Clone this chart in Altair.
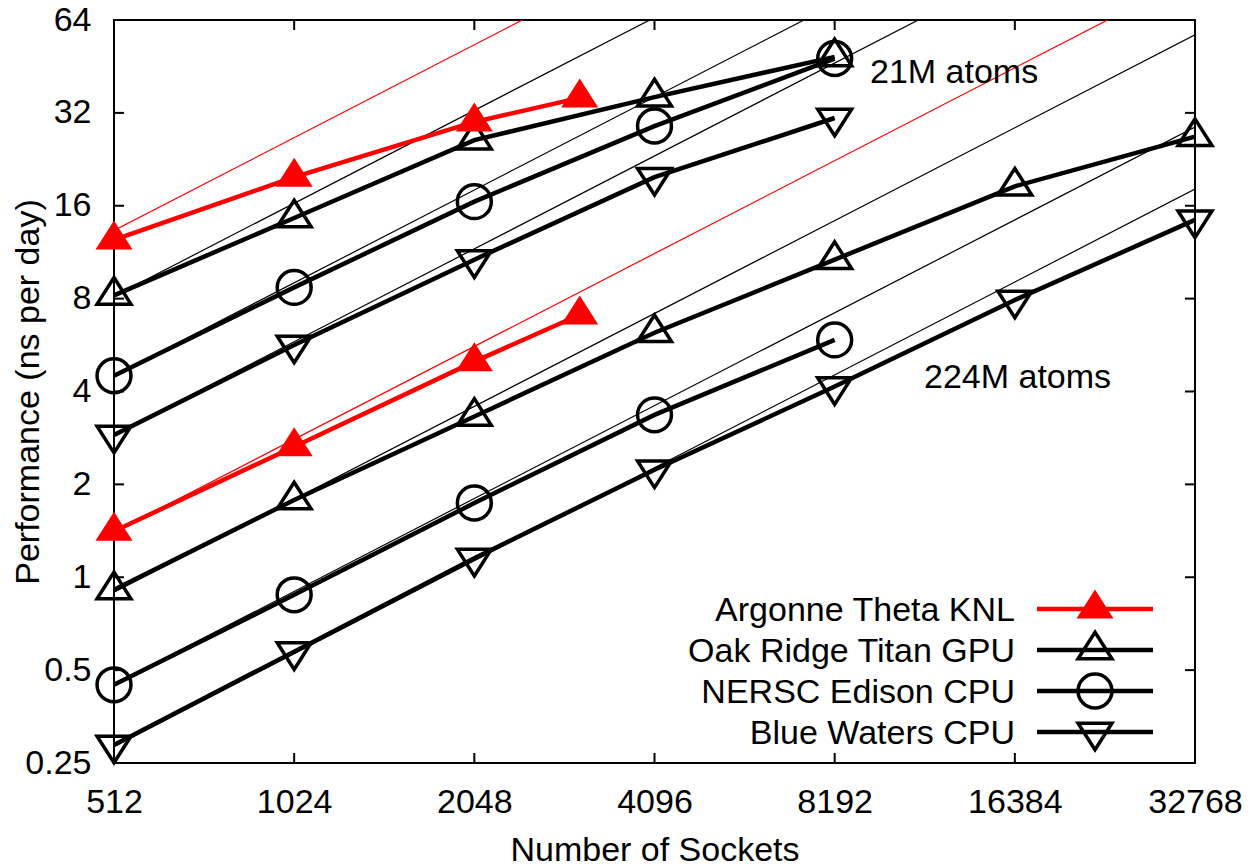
import altair as alt
import pandas as pd

# ---------------------------------------------------------------- data
sockets = [512, 1024, 2048, 4096, 8192, 16384, 32768]
knl_sockets = [512, 1024, 2048, 3072]

machines = ["Argonne Theta KNL", "Oak Ridge Titan GPU", "NERSC Edison CPU", "Blue Waters CPU"]

# 21M-atom system (ns per day)
knl_21m = [12.4, 19.8, 29.9, 35.8]
titan_21m = [8.2, 14.6, 26.1, 36.0, 48.6]
edison_21m = [4.5, 8.7, 16.5, 29.0, 48.0]
bluewaters_21m = [2.89, 5.66, 10.7, 19.8, 30.8]

# 224M-atom system (ns per day)
knl_224m = [1.41, 2.65, 5.0, 7.09]
titan_224m = [0.91, 1.78, 3.32, 6.2, 10.7, 18.5, 26.8]
edison_224m = [0.448, 0.877, 1.74, 3.36, 5.88]
bluewaters_224m = [0.286, 0.574, 1.153, 2.23, 4.15, 7.92, 14.4]

# perfect-scaling reference lines: performance at 512 sockets
ideal_21m = [13.3, 8.15, 4.5, 2.9]
ideal_224m = [1.40, 0.895, 0.45, 0.283]

# ---------------------------------------------------------------- tables
series = [
    ("Argonne Theta KNL", "21M", knl_sockets, knl_21m),
    ("Oak Ridge Titan GPU", "21M", sockets, titan_21m),
    ("NERSC Edison CPU", "21M", sockets, edison_21m),
    ("Blue Waters CPU", "21M", sockets, bluewaters_21m),
    ("Argonne Theta KNL", "224M", knl_sockets, knl_224m),
    ("Oak Ridge Titan GPU", "224M", sockets, titan_224m),
    ("NERSC Edison CPU", "224M", sockets, edison_224m),
    ("Blue Waters CPU", "224M", sockets, bluewaters_224m),
]
rows = []
for machine, system, xs, ys in series:
    for s, p in zip(xs, ys):
        rows.append({"machine": machine, "series": machine + " " + system,
                     "sockets": s, "perf": p})
perf_df = pd.DataFrame(rows)

ideal_rows = []
for system, starts in (("21M", ideal_21m), ("224M", ideal_224m)):
    for machine, v0 in zip(machines, starts):
        for s in (sockets[0], sockets[-1]):
            ideal_rows.append({"machine": machine, "series": machine + " " + system,
                               "sockets": s, "perf": v0 * s / sockets[0]})
ideal_df = pd.DataFrame(ideal_rows)

# ---------------------------------------------------------------- style
FONT = "Liberation Sans"
FS = 34
W, H = 1081, 743
TRI_UP = "M0,-1.05L1,0.52L-1,0.52Z"
TRI_DOWN = "M0,1.05L1,-0.52L-1,-0.52Z"
LINE_W = 4.5
OPEN_SIZE = 1150
FILLED_SIZE = 1369

x_enc = alt.X(
    "sockets:Q",
    scale=alt.Scale(type="log", base=2, domain=[512, 32768]),
    axis=alt.Axis(values=sockets, labelExpr="'' + datum.value", title="Number of Sockets",
                  ticks=False, domain=False, grid=False, labelFlush=False, labelOverlap=False,
                  labelPadding=22, labelFont=FONT, labelFontSize=FS, labelColor="black",
                  titleFont=FONT, titleFontSize=FS, titleFontWeight="normal", titleColor="black",
                  titleX=W / 2, titleY=97, titleBaseline="alphabetic", titleAlign="center"),
)
y_ticks = [0.25, 0.5, 1, 2, 4, 8, 16, 32, 64]
y_enc = alt.Y(
    "perf:Q",
    scale=alt.Scale(type="log", base=2, domain=[0.25, 64]),
    axis=alt.Axis(values=y_ticks, labelExpr="'' + datum.value", title="Performance (ns per day)",
                  ticks=False, domain=False, grid=False, labelFlush=False, labelOverlap=False,
                  labelPadding=23, labelFont=FONT, labelFontSize=FS, labelColor="black",
                  labelBaseline="middle",
                  titleFont=FONT, titleFontSize=FS, titleFontWeight="normal", titleColor="black",
                  titleAngle=270, titleX=-76, titleY=H / 2, titleBaseline="alphabetic",
                  titleAlign="center"),
)
color_enc = alt.Color("machine:N",
                      scale=alt.Scale(domain=machines, range=["#ff0000", "#000000", "#000000", "#000000"]),
                      legend=None)

# ---------------------------------------------------------------- layers
ideal = alt.Chart(ideal_df).mark_line(strokeWidth=1.2, clip=True).encode(
    x=x_enc, y=y_enc, color=color_enc, detail="series:N")

lines = alt.Chart(perf_df).mark_line(strokeWidth=LINE_W, clip=False).encode(
    x=x_enc, y=y_enc, color=color_enc, detail="series:N")

open_pts = alt.Chart(perf_df).transform_filter(
    alt.datum.machine != "Argonne Theta KNL"
).mark_point(filled=False, strokeWidth=3.5, size=OPEN_SIZE, opacity=1, color="black",
             strokeJoin="miter").encode(
    x=x_enc, y=y_enc,
    shape=alt.Shape("machine:N",
                    scale=alt.Scale(domain=machines, range=[TRI_UP, TRI_UP, "circle", TRI_DOWN]),
                    legend=None))

knl_pts = alt.Chart(perf_df).transform_filter(
    alt.datum.machine == "Argonne Theta KNL"
).mark_point(filled=True, size=FILLED_SIZE, opacity=1, color="#ff0000", shape=TRI_UP).encode(
    x=x_enc, y=y_enc)

# inward ticks on all four sides
xt_df = pd.DataFrame({"sockets": sockets[1:-1]})
yt_df = pd.DataFrame({"perf": y_ticks[1:-1]})
tick_style = dict(color="black", strokeWidth=2)
ticks = [
    alt.Chart(xt_df).mark_rule(**tick_style).encode(x=x_enc, y=alt.value(H), y2=alt.value(H - 10)),
    alt.Chart(xt_df).mark_rule(**tick_style).encode(x=x_enc, y=alt.value(0), y2=alt.value(10)),
    alt.Chart(yt_df).mark_rule(**tick_style).encode(y=y_enc, x=alt.value(0), x2=alt.value(10)),
    alt.Chart(yt_df).mark_rule(**tick_style).encode(y=y_enc, x=alt.value(W - 10), x2=alt.value(W)),
]

# system-size annotations
notes = []
for label, nx, ny in (("21M atoms", 756, 63), ("224M atoms", 810, 368)):
    notes.append(alt.Chart(pd.DataFrame({"label": [label]})).mark_text(
        align="left", baseline="alphabetic", font=FONT, fontSize=FS, color="black"
    ).encode(text="label:N", x=alt.value(nx), y=alt.value(ny)))

# legend: label, line sample, marker
legend = []
legend_shapes = [TRI_UP, TRI_UP, "circle", TRI_DOWN]
legend_colors = ["#ff0000", "black", "black", "black"]
for i, name in enumerate(machines):
    ly = 589 + 41 * i
    one = pd.DataFrame({"label": [name]})
    legend.append(alt.Chart(one).mark_text(
        align="right", baseline="alphabetic", font=FONT, fontSize=FS, color="black"
    ).encode(text="label:N", x=alt.value(901), y=alt.value(ly + 12)))
    legend.append(alt.Chart(one).mark_rule(strokeWidth=LINE_W, color=legend_colors[i]).encode(
        x=alt.value(923), x2=alt.value(1039), y=alt.value(ly)))
    if i == 0:
        mk = alt.Chart(one).mark_point(filled=True, size=FILLED_SIZE, opacity=1,
                                       color="#ff0000", shape=TRI_UP)
    else:
        mk = alt.Chart(one).mark_point(filled=False, strokeWidth=3.5, size=OPEN_SIZE, opacity=1,
                                       color="black", shape=legend_shapes[i], strokeJoin="miter")
    legend.append(mk.encode(x=alt.value(981), y=alt.value(ly)))

chart = alt.layer(ideal, lines, open_pts, knl_pts, *ticks, *notes, *legend).properties(
    width=W, height=H,
    autosize=alt.AutoSizeParams(type="none"),
    padding={"left": 114, "top": 20, "right": 56, "bottom": 103},
    background="white",
).configure_view(stroke="black", strokeWidth=2)

chart.save("out.html", embed_options={"renderer": "svg", "actions": False})
